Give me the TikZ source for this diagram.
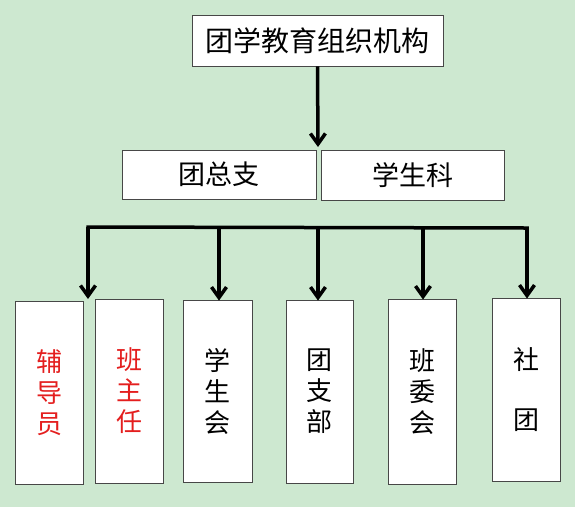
\documentclass[tikz,border=0pt]{standalone}
\usepackage{fontspec}
\setmainfont{Noto Sans CJK SC}
\usetikzlibrary{arrows.meta}
\definecolor{bg}{HTML}{CDE8D0}
\definecolor{redtxt}{HTML}{E41E1E}
\begin{document}
\begin{tikzpicture}[x=1pt,y=-1pt,
  box/.style={draw=black!72, fill=white, line width=0.9pt, inner sep=0pt, align=center},
  tallbox/.style={box, minimum width=68pt, minimum height=183pt, font=\fontsize{26}{31}\selectfont},
  arr/.style={line width=3.5pt, -{Straight Barb[length=10.5pt,width=15pt]}},
  bar/.style={line width=3.5pt, line cap=rect}]
\fill[bg] (0,0) rectangle (575,507);
\useasboundingbox (0,0) rectangle (575,507);

\node[box, minimum width=251pt, minimum height=51pt, font=\fontsize{28}{32}\selectfont] (top) at (317.5,40.5) {团学教育组织机构};
\node[box, minimum width=194pt, minimum height=49pt, font=\fontsize{27}{31}\selectfont] (tzz) at (219,174.5) {团总支};
\node[box, minimum width=183pt, minimum height=50pt, font=\fontsize{27}{31}\selectfont] (xsk) at (412.5,175) {学生科};

\node[tallbox, text=redtxt] (fdy) at (49,392.5) {辅\\导\\员};
\node[tallbox, text=redtxt, minimum height=184pt] (bzr) at (129,391) {班\\主\\任};
\node[tallbox, minimum width=69pt, minimum height=182pt] (xsh) at (217.5,391) {学\\生\\会};
\node[tallbox, minimum width=67pt] (tzb) at (319.5,391.5) {团\\支\\部};
\node[tallbox, minimum height=185pt] (bwh) at (422,391.5) {班\\委\\会};
\node[tallbox] (st) at (526,389.5) {社\\[29pt]团};

\coordinate (t0) at (318,147);
\draw[arr] (top.south) -- (t0);

\coordinate (b1) at (88,227);
\coordinate (b2) at (219,227.3);
\coordinate (b3) at (318,227.5);
\coordinate (b4) at (423,227.8);
\coordinate (b5) at (527,228);
\coordinate (t1) at (88,299);
\draw[bar] (b1) -- (b5);
\draw[arr] (b1) -- (t1);
\draw[arr] (b2) -- ([yshift=-1pt]b2 |- xsh.north);
\draw[arr] (b3) -- ([yshift=-1pt]b3 |- tzb.north);
\draw[arr] (b4) -- ([yshift=-1pt]b4 |- bwh.north);
\draw[arr] (b5) -- ([yshift=-1pt]b5 |- st.north);
\end{tikzpicture}
\end{document}
